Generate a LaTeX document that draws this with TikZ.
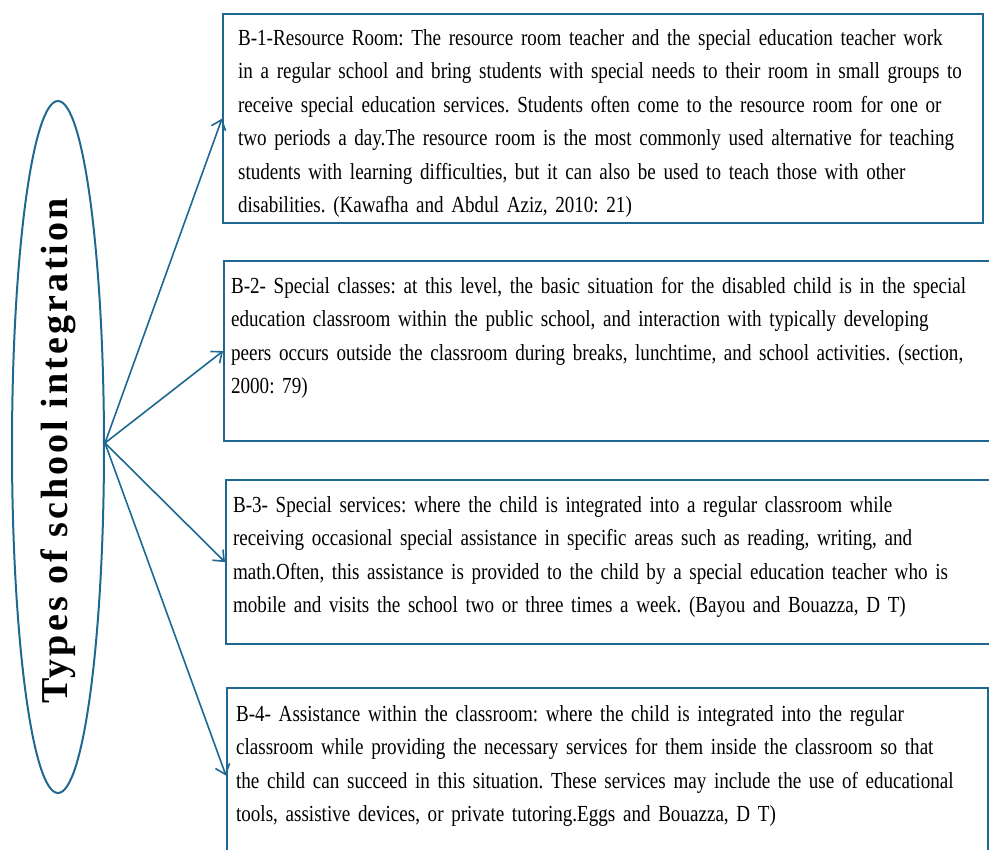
\documentclass[tikz,border=0pt]{standalone}
\usepackage{fontspec}
\setmainfont[FakeStretch=0.83]{Liberation Serif}
\newfontfamily\titlefont[LetterSpace=8]{Liberation Serif}
\usetikzlibrary{shapes.geometric,arrows.meta}
\definecolor{lineblue}{RGB}{31,104,145}
\begin{document}
\begin{tikzpicture}[x=1pt,y=-1pt,>={Straight Barb[length=9pt,width=15pt]},
typebox/.style={draw=lineblue,line width=2.2pt,anchor=north west,align=left,inner ysep=0pt,
  font=\fontsize{23}{33.5}\selectfont\frenchspacing},
arrow/.style={->,draw=lineblue,line width=1.6pt}]
\useasboundingbox (0,0) rectangle (989,850);
\node[draw=lineblue,line width=2pt,ellipse,minimum width=92pt,minimum height=692pt,inner sep=0pt] (types) at (58,447) {};
\node[rotate=90,font=\titlefont\bfseries\fontsize{38}{44}\selectfont] (title) at (58,451) {Types of school integration};
\node[typebox,inner xsep=15pt,text width=730pt,text height=31pt,text depth=178pt] (b1) at (222,13)
{B-1-Resource Room: The resource room teacher and the special education teacher work\\
 in a regular school and bring students with special needs to their room in small groups to\\
 receive special education services. Students often come to the resource room for one or\\
 two periods a day.The resource room is the most commonly used alternative for teaching\\
 students with learning difficulties, but it can also be used to teach those with other\\
 disabilities. (Kawafha and Abdul Aziz, 2010: 21)};
\node[typebox,inner xsep=7pt,text width=766pt,text height=32pt,text depth=148pt] (b2) at (223,260)
{B-2- Special classes: at this level, the basic situation for the disabled child is in the special\\
 education classroom within the public school, and interaction with typically developing\\
 peers occurs outside the classroom during breaks, lunchtime, and school activities. (section,\\
 2000: 79)};
\node[typebox,inner xsep=7pt,text width=766pt,text height=32pt,text depth=132pt] (b3) at (225,479)
{B-3- Special services: where the child is integrated into a regular classroom while\\
 receiving occasional special assistance in specific areas such as reading, writing, and\\
 math.Often, this assistance is provided to the child by a special education teacher who is\\
 mobile and visits the school two or three times a week. (Bayou and Bouazza, D T)};
\node[typebox,inner xsep=9pt,text width=743pt,text height=33pt,text depth=142pt] (b4) at (226,687)
{B-4- Assistance within the classroom: where the child is integrated into the regular\\
 classroom while providing the necessary services for them inside the classroom so that\\
 the child can succeed in this situation. These services may include the use of educational\\
 tools, assistive devices, or private tutoring.Eggs and Bouazza, D T)};
\foreach \b in {b1,b2,b3,b4}
  \draw[arrow] ([yshift=4pt]types.east) -- (\b.west);
\end{tikzpicture}
\end{document}
